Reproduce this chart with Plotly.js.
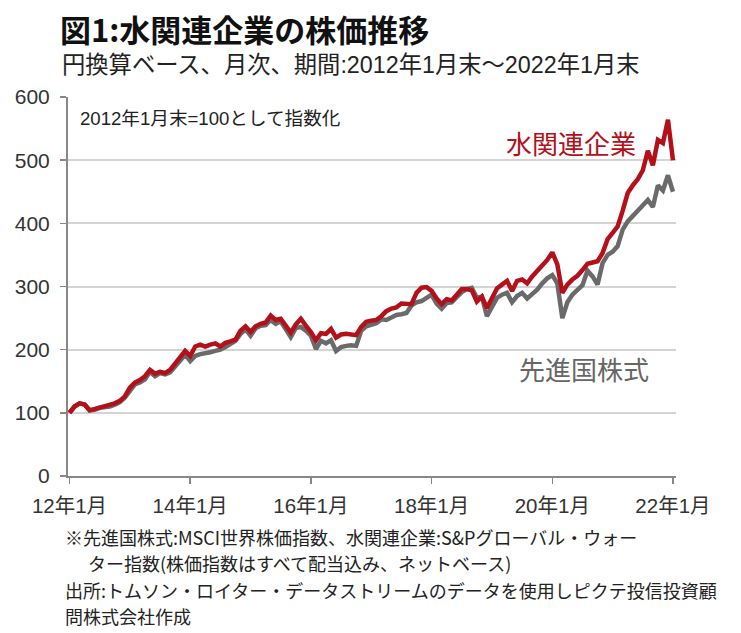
<!DOCTYPE html>
<html>
<head>
<meta charset="utf-8">
<script src="https://cdn.plot.ly/plotly-3.0.1.min.js"></script>
<style>
html,body{margin:0;padding:0;background:#fff;}
#chart{width:741px;height:633px;}
</style>
</head>
<body>
<div id="chart"></div>
<script>
// Monthly index, end of Jan 2012 = 100 (Jan 2012 ... Jan 2022, 121 months)
const startYear = 2012;
const waterIndex = [
 100,110,115,113,104,106,109,110,112,115,119,126,
 140,148,152,158,168,162,165,163,168,178,190,198,
 190,205,208,205,208,210,205,211,213,216,230,237,
 228,237,241,243,254,247,249,238,227,240,249,238,
 228,215,226,225,233,219,224,225,224,223,236,244,
 246,247,253,261,265,267,273,273,272,290,298,299,
 293,281,272,280,278,287,296,296,294,276,284,266,
 283,297,303,309,293,309,311,305,316,324,333,342,
 354,335,290,303,311,317,326,336,338,340,353,375,
 385,395,420,448,460,470,484,515,492,532,527,564,
 500
];
const worldIndex = [
 100,110,115,113,104,105,108,109,110,113,117,124,
 136,145,148,153,165,158,163,161,164,174,184,192,
 182,190,193,194,196,198,200,204,209,214,225,232,
 222,234,238,239,247,241,245,234,220,234,236,230,
 222,201,214,210,215,198,204,206,207,206,230,237,
 239,242,248,247,251,255,256,258,270,275,277,282,
 287,273,265,274,275,283,291,296,298,282,284,253,
 267,282,287,290,275,285,290,281,288,295,305,313,
 318,305,250,275,287,295,302,325,316,303,337,350,
 355,364,390,403,412,421,429,437,426,460,452,476,
 450
];
const seriesNames = ['水関連企業', '先進国株式'];
const tickYears = [12, 14, 16, 18, 20, 22];

const months = worldIndex.map((_, i) => i);
const tickVals = tickYears.map(y => (y - 12) * 12);
const tickText = tickYears.map(y => y + '年1月');

const jp = '"Noto Sans CJK JP", "Noto Sans", sans-serif';
const mix = '"Liberation Sans", "Noto Sans CJK JP", sans-serif';

// pixel helpers for paper coordinates (plot: x 68..676, y 97..476)
const L = 68, R = 676, T = 97, B = 476;
const px = x => (x - L) / (R - L);
const py = y => (B - y) / (B - T);

const traces = [
  {x: months, y: worldIndex, name: seriesNames[1], type: 'scatter', mode: 'lines',
   line: {color: '#6a6a6a', width: 4.5}, hoverinfo: 'skip'},
  {x: months, y: waterIndex, name: seriesNames[0], type: 'scatter', mode: 'lines',
   line: {color: '#b3101a', width: 4.5}, hoverinfo: 'skip'}
];

const notes = [
  {t: '※先進国株式:MSCI世界株価指数、水関連企業:S&Pグローバル・ウォー', x: 63, y: 537},
  {t: 'ター指数(株価指数はすべて配当込み、ネットベース)', x: 86, y: 563},
  {t: '出所:トムソン・ロイター・データストリームのデータを使用しピクテ投信投資顧', x: 63, y: 590},
  {t: '問株式会社作成', x: 63, y: 616}
];

const annotations = [
  {text: '円換算ベース、月次、期間:2012年1月末～2022年1月末', xref: 'paper', yref: 'paper',
   x: px(60), y: py(65), xanchor: 'left', yanchor: 'middle', showarrow: false,
   font: {family: mix, size: 23.3, color: '#222'}},
  {text: '2012年1月末=100として指数化', xref: 'paper', yref: 'paper',
   x: px(78), y: py(118), xanchor: 'left', yanchor: 'middle', showarrow: false,
   font: {family: mix, size: 18.6, color: '#222'}},
  {text: seriesNames[0], xref: 'paper', yref: 'paper',
   x: px(571), y: py(142), xanchor: 'center', yanchor: 'middle', showarrow: false,
   font: {family: jp, size: 26, color: '#b3101a'}},
  {text: seriesNames[1], xref: 'paper', yref: 'paper',
   x: px(584), y: py(368), xanchor: 'center', yanchor: 'middle', showarrow: false,
   font: {family: jp, size: 26, color: '#666'}}
].concat(notes.map(n => ({
  text: n.t, xref: 'paper', yref: 'paper', x: px(n.x), y: py(n.y),
  xanchor: 'left', yanchor: 'middle', showarrow: false,
  font: {family: jp, size: 18, color: '#222'}
})));

const layout = {
  width: 741, height: 633,
  margin: {l: L, r: 741 - R, t: T, b: 633 - B, pad: 0},
  paper_bgcolor: '#fff', plot_bgcolor: '#fff',
  showlegend: false,
  title: {text: '<b>図1:水関連企業の株価推移</b>', x: 60/741, xanchor: 'left',
          y: 1 - 31/633, yanchor: 'middle',
          font: {family: jp, size: 31, color: '#111'}},
  xaxis: {range: [-0.3, 120.6], tickvals: tickVals, ticktext: tickText,
          showgrid: false, zeroline: false, showline: true, linecolor: '#888', linewidth: 2,
          ticks: 'outside', ticklen: 6, tickcolor: '#888', tickwidth: 1.5,
          ticklabelstandoff: 4,
          tickfont: {family: mix, size: 20.5, color: '#333'}},
  yaxis: {range: [0, 600], dtick: 100, showgrid: true, gridcolor: '#d4d4d4', gridwidth: 2,
          zeroline: false, showline: true, linecolor: '#888', linewidth: 2,
          ticks: 'outside', ticklen: 6, tickcolor: '#888', tickwidth: 1.5,
          ticklabelstandoff: 6,
          tickfont: {family: mix, size: 21, color: '#333'}},
  annotations: annotations
};

Plotly.newPlot('chart', traces, layout, {displayModeBar: false, staticPlot: true});
</script>
</body>
</html>
